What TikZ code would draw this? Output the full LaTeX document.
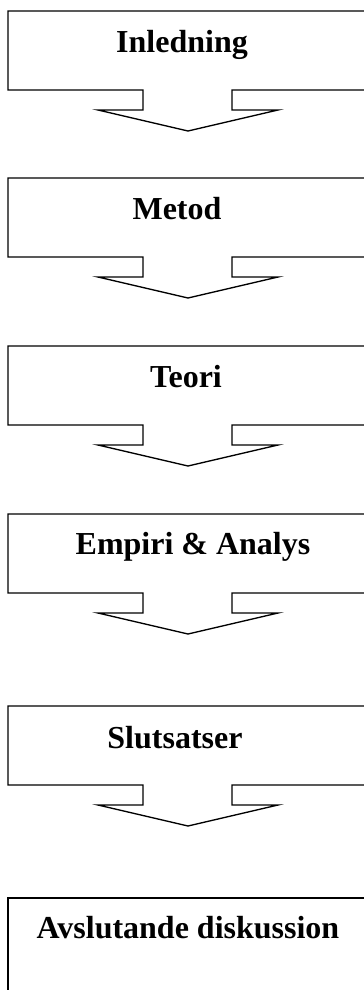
\documentclass[tikz,border=0pt]{standalone}
\usepackage{fontspec}
\setmainfont{Liberation Serif}
\begin{document}
\begin{tikzpicture}[x=0.75pt,y=-0.75pt,
  outline/.style={draw=black,line width=1pt,line join=miter},
  label/.style={anchor=base,inner sep=0pt,font=\bfseries\fontsize{24}{28}\selectfont}]
\useasboundingbox (0,0) rectangle (364,990);
\clip (0,0) rectangle (364,990);
\foreach \T in {11,178,346,514,706}{
  \draw[outline] (380,\T) -- (8,\T) -- (8,\T+79) -- (143,\T+79) -- (143,\T+99)
     -- (98,\T+99) -- (188,\T+120) -- (278,\T+99) -- (232,\T+99) -- (232,\T+79) -- (380,\T+79);
}
\draw[outline] (380,898) -- (8,898) -- (8,1000);
\node[label] (t1) at (182,52) {Inledning};
\node[label] (t2) at (177,219) {Metod};
\node[label] (t3) at (186,387) {Teori};
\node[label] (t4) at (193,554) {Empiri \& Analys};
\node[label] (t5) at (175,748) {Slutsatser};
\node[label] (t6) at (188,938) {Avslutande diskussion};
\end{tikzpicture}
\end{document}
